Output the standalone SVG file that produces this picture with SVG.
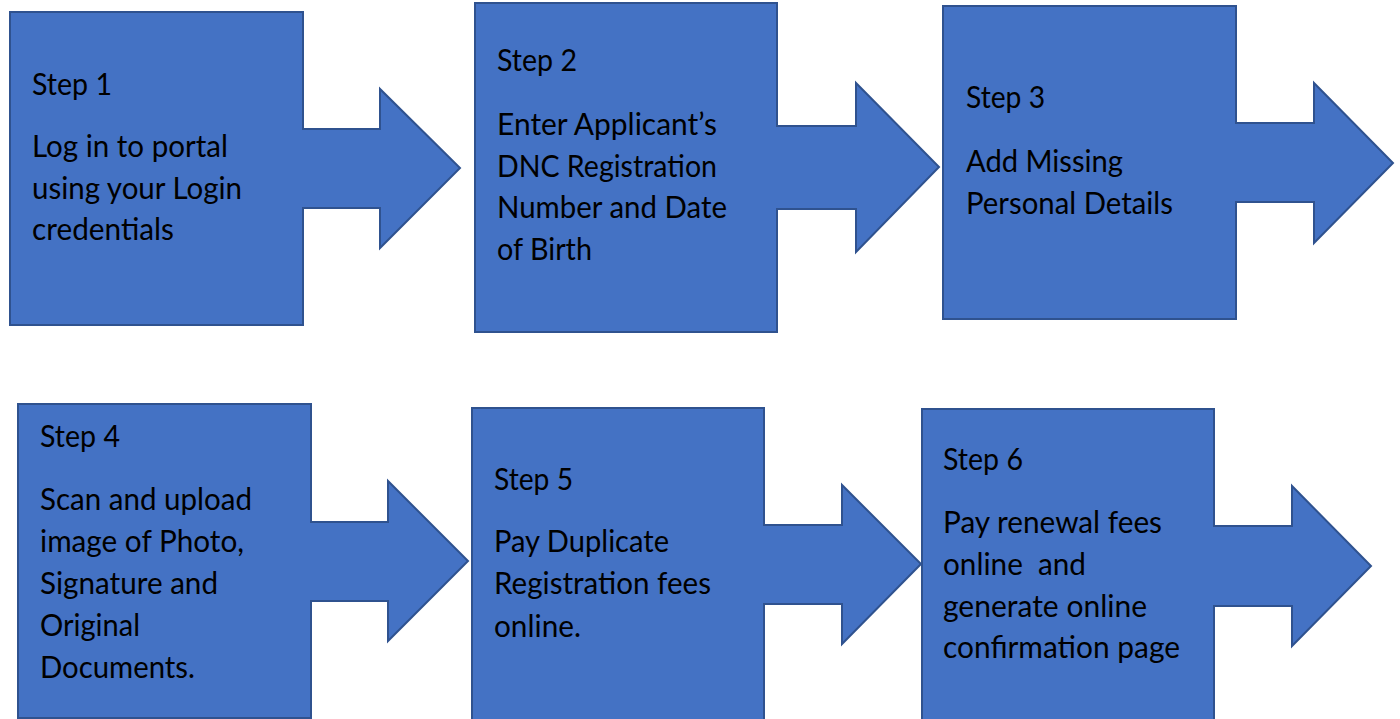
<svg xmlns="http://www.w3.org/2000/svg" width="1400" height="719" viewBox="0 0 1400 719">
<style>
.shape{fill:#4472C4;stroke:#2F528F;stroke-width:2;stroke-linejoin:miter}
text{font-family:Lato,"Open Sans","Liberation Sans",sans-serif;font-size:31px;fill:#000}
</style>
<rect width="1400" height="719" fill="#fff"/>
<g id="connectors"></g>
<g id="step1">
<path class="shape" d="M10,12 H303 V129 H380 V89 L460,168 L380,248 V208 H303 V325 H10 Z"/>
<text x="32" y="95" textLength="80" lengthAdjust="spacingAndGlyphs">Step 1</text>
<text x="32" y="157" textLength="196" lengthAdjust="spacingAndGlyphs">Log in to portal</text>
<text x="32" y="199" textLength="210" lengthAdjust="spacingAndGlyphs">using your Login</text>
<text x="32" y="240" textLength="142" lengthAdjust="spacingAndGlyphs">credentials</text>
</g>
<g id="step2">
<path class="shape" d="M475,3 H777 V126 H856 V83 L939,167 L856,252 V209 H777 V332 H475 Z"/>
<text x="497" y="71" textLength="80" lengthAdjust="spacingAndGlyphs">Step 2</text>
<text x="497" y="135" textLength="220" lengthAdjust="spacingAndGlyphs">Enter Applicant’s</text>
<text x="497" y="177" textLength="220" lengthAdjust="spacingAndGlyphs">DNC Registration</text>
<text x="497" y="218" textLength="230" lengthAdjust="spacingAndGlyphs">Number and Date</text>
<text x="497" y="260" textLength="95" lengthAdjust="spacingAndGlyphs">of Birth</text>
</g>
<g id="step3">
<path class="shape" d="M943,6 H1236 V123 H1314 V83 L1393,163 L1314,243 V202 H1236 V319 H943 Z"/>
<text x="966" y="108" textLength="79" lengthAdjust="spacingAndGlyphs">Step 3</text>
<text x="966" y="172" textLength="157" lengthAdjust="spacingAndGlyphs">Add Missing</text>
<text x="966" y="214" textLength="207" lengthAdjust="spacingAndGlyphs">Personal Details</text>
</g>
<g id="step4">
<path class="shape" d="M18,404 H311 V522 H388 V481 L468,561 L388,641 V601 H311 V718 H18 Z"/>
<text x="40" y="447" textLength="80" lengthAdjust="spacingAndGlyphs">Step 4</text>
<text x="40" y="510" textLength="212" lengthAdjust="spacingAndGlyphs">Scan and upload</text>
<text x="40" y="552" textLength="204" lengthAdjust="spacingAndGlyphs">image of Photo,</text>
<text x="40" y="594" textLength="178" lengthAdjust="spacingAndGlyphs">Signature and</text>
<text x="40" y="636" textLength="100" lengthAdjust="spacingAndGlyphs">Original</text>
<text x="40" y="678" textLength="155" lengthAdjust="spacingAndGlyphs">Documents.</text>
</g>
<g id="step5">
<path class="shape" d="M472,408 H764 V525 H842 V485 L921,564 L842,644 V604 H764 V725 H472 Z"/>
<text x="494" y="490" textLength="79" lengthAdjust="spacingAndGlyphs">Step 5</text>
<text x="494" y="552" textLength="175" lengthAdjust="spacingAndGlyphs">Pay Duplicate</text>
<text x="494" y="594" textLength="217" lengthAdjust="spacingAndGlyphs">Registration fees</text>
<text x="494" y="637" textLength="87" lengthAdjust="spacingAndGlyphs">online.</text>
</g>
<g id="step6">
<path class="shape" d="M922,409 H1214 V526 H1292 V486 L1371,566 L1292,646 V606 H1214 V725 H922 Z"/>
<text x="943" y="470" textLength="80" lengthAdjust="spacingAndGlyphs">Step 6</text>
<text x="943" y="533" textLength="219" lengthAdjust="spacingAndGlyphs">Pay renewal fees</text>
<text x="943" y="575" textLength="143" lengthAdjust="spacingAndGlyphs" xml:space="preserve">online  and</text>
<text x="943" y="617" textLength="204" lengthAdjust="spacingAndGlyphs">generate online</text>
<text x="943" y="658" textLength="237" lengthAdjust="spacingAndGlyphs">confirmation page</text>
</g>
</svg>
